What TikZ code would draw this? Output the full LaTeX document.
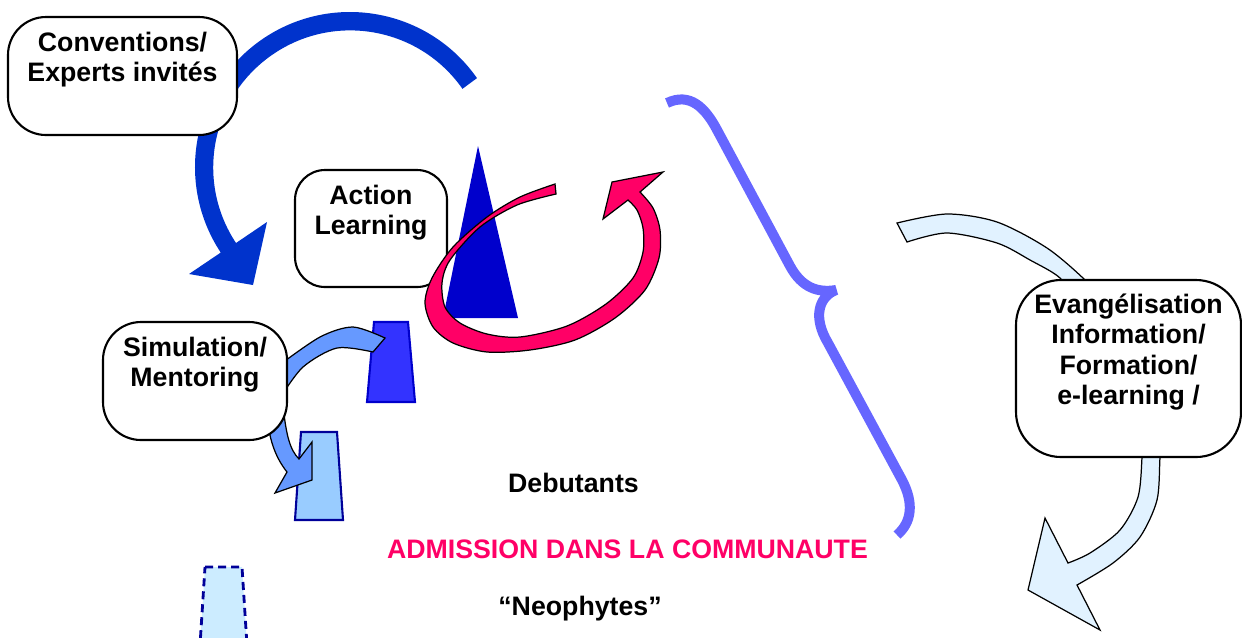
\documentclass[tikz,border=0pt]{standalone}
\usepackage{fontspec}
\setmainfont{Liberation Sans}
\usepackage{tikz}
\usetikzlibrary{positioning}
\tikzset{>=stealth}

\definecolor{arcblue}{RGB}{0,51,204}
\definecolor{spikeblue}{RGB}{0,0,204}
\definecolor{loopred}{RGB}{255,0,102}
\definecolor{simblue}{RGB}{102,153,255}
\definecolor{stepdark}{RGB}{51,51,255}
\definecolor{steplight}{RGB}{153,204,255}
\definecolor{stepghost}{RGB}{204,236,255}
\definecolor{edgeblue}{RGB}{0,0,153}
\definecolor{bracecol}{RGB}{102,102,255}
\definecolor{evablue}{RGB}{225,242,255}

\begin{document}
\begin{tikzpicture}[every node/.style={font=\fontsize{7.6}{8.6}\selectfont\bfseries},
                    box/.style={draw=black, line width=0.6pt, fill=white, rounded corners=0.38cm, inner sep=0pt},
                    band/.style={draw=black, line width=0.35pt},
                    stepbox/.style={line width=0.6pt, draw=edgeblue},
                    bracestyle/.style={draw=bracecol, line width=0.10cm, line join=bevel},
                    lbl/.style={anchor=base},
                   ]

\useasboundingbox (0,0) rectangle (12.42,-6.37);

% grand arc
\fill[arcblue] (3.50,-1.67) ++(35:1.55) arc[start angle=35, end angle=213.5, radius=1.55]
    -- (1.89,-2.74) -- (2.53,-2.85) -- (2.67,-2.22) -- (2.36,-2.43)
    arc[start angle=213.5, end angle=35, radius=1.37] -- cycle;

\node[box, minimum width=2.29cm, minimum height=1.18cm] (conv) at (1.225,-0.76)
    {\parbox[c][1.18cm][t]{2.25cm}{\centering\vspace*{0.15cm}Conventions/\\Experts invités}};

% evangelisation arrow
\filldraw[band, fill=evablue] plot[smooth] coordinates {(8.97,-2.23) (9.47,-2.14) (9.97,-2.22) (10.47,-2.48) (10.85,-2.80) (11.00,-3.00)}
    -- plot[smooth] coordinates {(10.78,-3.05) (10.60,-2.78) (10.30,-2.60) (9.97,-2.43) (9.47,-2.33) (9.07,-2.42)} -- cycle;
\filldraw[band, fill=evablue] plot[smooth] coordinates {(11.62,-4.40) (11.60,-4.57) (11.57,-5.00) (11.40,-5.37) (11.13,-5.63) (10.77,-5.85)}
    -- (11.00,-6.30) -- (10.28,-5.90) -- (10.45,-5.18)
    -- plot[smooth] coordinates {(10.68,-5.63) (10.90,-5.53) (11.20,-5.30) (11.38,-4.97) (11.42,-4.57) (11.42,-4.40)} -- cycle;

\node[box, rounded corners=0.45cm, minimum width=2.25cm, minimum height=1.77cm] (eva) at (11.285,-3.685)
    {\parbox[c][1.77cm][t]{2.22cm}{\centering\vspace*{0.14cm}Evangélisation\\Information/\\Formation/\\e-learning /}};

% brace
\draw[bracestyle] (6.67,-1.03) .. controls (6.90,-0.92) and (7.05,-1.08) .. (7.16,-1.28) -- (7.90,-2.66)
    .. controls (8.02,-2.88) and (8.18,-2.93) .. (8.36,-2.90)
    .. controls (8.18,-2.97) and (8.13,-3.18) .. (8.28,-3.43) -- (9.02,-4.80)
    .. controls (9.14,-5.03) and (9.12,-5.22) .. (8.97,-5.35);

\node[box, rounded corners=0.30cm, minimum width=1.52cm, minimum height=1.17cm] (action) at (3.71,-2.285)
    {\parbox[c][1.17cm][t]{1.45cm}{\centering\vspace*{0.15cm}Action\\Learning}};

\fill[spikeblue] (4.78,-1.46) -- (5.18,-3.18) -- (4.43,-3.18) -- cycle;

% loop
\filldraw[band, fill=loopred] plot[smooth] coordinates {(5.55,-1.84) (5.20,-1.97) (4.87,-2.17) (4.53,-2.47) (4.32,-2.78) (4.25,-3.03) (4.33,-3.27) (4.53,-3.43) (4.87,-3.52) (5.30,-3.50) (5.75,-3.40) (6.15,-3.18) (6.45,-2.90) (6.59,-2.58) (6.60,-2.30) (6.53,-2.08) (6.40,-1.92)}
    -- (6.63,-1.72) -- (6.12,-1.82) -- (6.03,-2.19)
    -- plot[smooth] coordinates {(6.28,-2.00) (6.37,-2.10) (6.43,-2.28) (6.43,-2.52) (6.33,-2.78) (6.06,-3.04) (5.67,-3.26) (5.20,-3.37) (4.87,-3.34) (4.60,-3.23) (4.45,-3.07) (4.42,-2.83) (4.50,-2.60) (4.80,-2.27) (5.17,-2.05) (5.56,-1.94)} -- cycle;

% steps
\filldraw[stepbox, draw=spikeblue, fill=stepdark] (3.74,-3.22) -- (4.08,-3.22) -- (4.15,-4.02) -- (3.67,-4.02) -- cycle;
\filldraw[band, fill=simblue] plot[smooth] coordinates {(2.78,-3.66) (3.20,-3.37) (3.53,-3.27) (3.85,-3.38)}
    -- plot[smooth] coordinates {(3.73,-3.52) (3.37,-3.48) (3.03,-3.67) (2.80,-3.98)} -- cycle;

\filldraw[stepbox, fill=steplight] (3.01,-4.32) -- (3.37,-4.32) -- (3.43,-5.20) -- (2.95,-5.20) -- cycle;
\filldraw[band, fill=simblue] (2.83,-4.05) .. controls (2.86,-4.35) and (2.90,-4.50) .. (2.99,-4.59)
    -- (3.12,-4.42) -- (3.12,-4.80) -- (2.75,-4.93) -- (2.87,-4.72)
    .. controls (2.76,-4.58) and (2.68,-4.40) .. (2.66,-4.05) -- cycle;

\node[box, minimum width=1.84cm, minimum height=1.18cm] (sim) at (1.95,-3.81)
    {\parbox[c][1.18cm][t]{1.8cm}{\centering\vspace*{0.15cm}Simulation/\\Mentoring}};

\filldraw[stepbox, line width=0.8pt, fill=stepghost, dash pattern=on 0.08cm off 0.05cm] (2.05,-5.67) -- (2.42,-5.67) -- (2.47,-6.45) -- (2.00,-6.45) -- cycle;

\node[lbl] (debut) at (5.735,-4.92) {Debutants};
\node[lbl, text=loopred] (admission) at (6.275,-5.58) {ADMISSION DANS LA COMMUNAUTE};
\node[lbl] (neophytes) at (5.80,-6.15) {“Neophytes”};

\end{tikzpicture}
\end{document}
